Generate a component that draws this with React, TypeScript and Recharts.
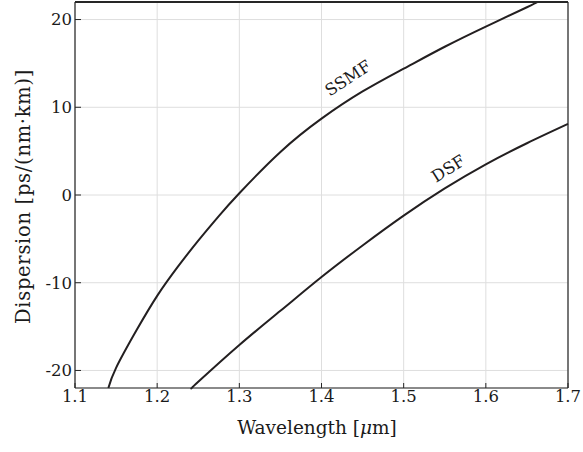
import React from 'react';
import { LineChart, Line, XAxis, YAxis, CartesianGrid, ReferenceDot } from 'recharts';

// Wavelength in µm, dispersion in ps/(nm·km)
const ssmfWavelength = [1.1406, 1.15, 1.175, 1.2, 1.225, 1.25, 1.275, 1.3, 1.35, 1.4, 1.45, 1.5, 1.55, 1.6, 1.65, 1.663];
const ssmfDispersion = [-22, -19.7, -15.4, -11.5, -8.2, -5.2, -2.4, 0.2, 4.9, 8.7, 11.8, 14.4, 16.9, 19.2, 21.4, 22];

const dsfWavelength = [1.2423, 1.25, 1.3, 1.35, 1.4, 1.45, 1.5, 1.55, 1.6, 1.65, 1.7];
const dsfDispersion = [-22, -21.3, -17.1, -13.2, -9.35, -5.75, -2.35, 0.75, 3.5, 5.9, 8.1];

const xTicks = [1.1, 1.2, 1.3, 1.4, 1.5, 1.6, 1.7];
const yTicks = [-20, -10, 0, 10, 20];
const xDomain = [1.1, 1.7];
const yDomain = [-22, 22];

// curve annotations
const ssmfTag = { text: 'SSMF', x: 1.4323, y: 13.3, tilt: -33 };
const dsfTag = { text: 'DSF', x: 1.5543, y: 3.0, tilt: -32 };

const ssmfData = ssmfWavelength.map((w, i) => ({ w, d: ssmfDispersion[i] }));
const dsfData = dsfWavelength.map((w, i) => ({ w, d: dsfDispersion[i] }));

const FONT = 'DejaVu Serif';
const INK = '#1a1a1a';

const CurveTag = (props: any) => {
  const { viewBox, text, tilt } = props;
  const cx = viewBox.x + viewBox.width / 2;
  const cy = viewBox.y + viewBox.height / 2;
  return (
    <text
      x={cx}
      y={cy}
      textAnchor="middle"
      dominantBaseline="central"
      transform={`rotate(${tilt} ${cx} ${cy})`}
      style={{ fontFamily: FONT }}
      fontSize={16.5}
      fill={INK}
    >
      {text}
    </text>
  );
};

const YTitle = () => (
  <text
    x={30}
    y={196.5}
    transform="rotate(-90 30 196.5)"
    textAnchor="middle"
    style={{ fontFamily: FONT, letterSpacing: 0.7 }}
    fontSize={19.5}
    fill={INK}
  >
    Dispersion [ps/(nm·km)]
  </text>
);

const XTitle = () => (
  <text x={317} y={434} textAnchor="middle" style={{ fontFamily: FONT, letterSpacing: 0 }} fontSize={18.5} fill={INK}>
    Wavelength [<tspan fontStyle="italic">μ</tspan>m]
  </text>
);

const fmtX = (v: number) => v.toFixed(1);
const fmtY = (v: number) => (v < 0 ? '-' + Math.abs(v) : String(v));

export default function App() {
  const axisLine = { stroke: '#262626', strokeWidth: 1.2 };
  const topLine = { stroke: '#262626', strokeWidth: 2 };
  const tickLine = { stroke: '#262626', strokeWidth: 1 };
  const tickStyle = { fontFamily: FONT, fontSize: 16.5, fill: INK };
  return (
    <div style={{ position: 'absolute', left: 0, top: 0, background: '#fff', fontFamily: FONT }}>
      <LineChart width={583} height={452} margin={{ top: 0, right: 0, bottom: 0, left: 0 }}>
        <CartesianGrid stroke="#dedede" strokeWidth={1} horizontal vertical />
        <XAxis
          dataKey="w"
          type="number"
          domain={xDomain}
          ticks={xTicks}
          tickFormatter={fmtX}
          height={64}
          tickSize={-5}
          tickMargin={7}
          axisLine={axisLine}
          tickLine={tickLine}
          tick={tickStyle}
          label={<XTitle />}
        />
        <XAxis
          xAxisId="top"
          orientation="top"
          dataKey="w"
          type="number"
          domain={xDomain}
          ticks={xTicks}
          height={2}
          tickSize={-5}
          axisLine={topLine}
          tickLine={tickLine}
          tick={false}
        />
        <YAxis
          dataKey="d"
          type="number"
          domain={yDomain}
          ticks={yTicks}
          tickFormatter={fmtY}
          width={75}
          tickSize={-6}
          tickMargin={9}
          axisLine={axisLine}
          tickLine={tickLine}
          tick={tickStyle}
          label={<YTitle />}
        />
        <YAxis
          yAxisId="right"
          orientation="right"
          dataKey="d"
          type="number"
          domain={yDomain}
          ticks={yTicks}
          width={15}
          tickSize={-6}
          axisLine={axisLine}
          tickLine={tickLine}
          tick={false}
        />
        <Line
          data={ssmfData}
          dataKey="d"
          type="natural"
          stroke="#231f20"
          strokeWidth={2}
          dot={false}
          activeDot={false}
          isAnimationActive={false}
        />
        <Line
          data={dsfData}
          dataKey="d"
          type="natural"
          stroke="#231f20"
          strokeWidth={2}
          dot={false}
          activeDot={false}
          isAnimationActive={false}
        />
        <ReferenceDot
          x={ssmfTag.x}
          y={ssmfTag.y}
          r={0}
          fill="none"
          stroke="none"
          label={<CurveTag text={ssmfTag.text} tilt={ssmfTag.tilt} />}
        />
        <ReferenceDot
          x={dsfTag.x}
          y={dsfTag.y}
          r={0}
          fill="none"
          stroke="none"
          label={<CurveTag text={dsfTag.text} tilt={dsfTag.tilt} />}
        />
      </LineChart>
    </div>
  );
}
